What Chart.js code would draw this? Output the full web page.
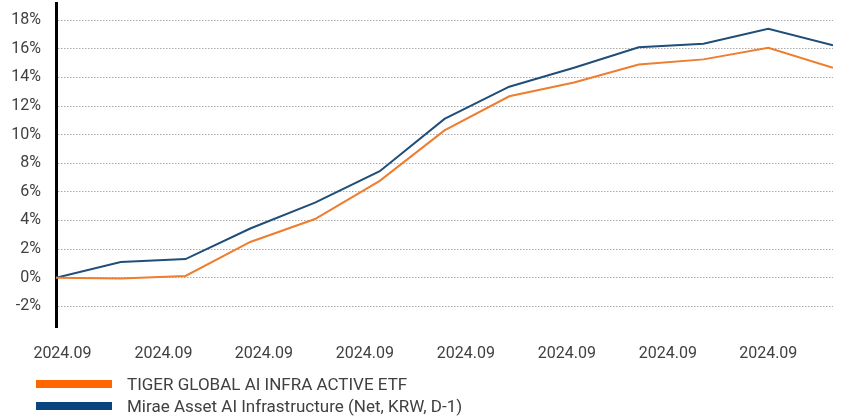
<!DOCTYPE html>
<html>
<head>
<meta charset="utf-8">
<script src="https://cdn.jsdelivr.net/npm/chart.js@4"></script>
<style>
  html, body { margin: 0; padding: 0; background: #fff; }
  #wrap { position: relative; width: 849px; height: 418px; }
  #box { position: absolute; left: 0; top: 0; width: 849px; height: 381px; }
  #legend { position: absolute; left: 36px; top: 373px; font-family: Roboto, "Liberation Sans", sans-serif; font-size: 17px; color: #404040; }
  .item { display: flex; align-items: center; height: 22px; }
  .sw { width: 76px; height: 8px; margin-right: 15px; }
</style>
</head>
<body>
<div id="wrap">
  <div id="box"><canvas id="c"></canvas></div>
  <div id="legend"></div>
</div>
<script>
// ---- data ----
const seriesNames = ["TIGER GLOBAL AI INFRA ACTIVE ETF", "Mirae Asset AI Infrastructure (Net, KRW, D-1)"];
const pointIndex = [0, 1, 2, 3, 4, 5, 6, 7, 8, 9, 10, 11, 12];
const tigerValues = [0, -0.05, 0.12, 2.5, 4.1, 6.77, 10.3, 12.68, 13.65, 14.9, 15.26, 16.07, 14.68];
const miraeValues = [0, 1.1, 1.3, 3.44, 5.25, 7.44, 11.1, 13.35, 14.68, 16.1, 16.35, 17.4, 16.24];
const xTickLabels = ["2024.09", "2024.09", "2024.09", "2024.09", "2024.09", "2024.09", "2024.09", "2024.09"];
const xTickValues = [0.1, 1.66, 3.21, 4.77, 6.33, 7.89, 9.45, 11.0];
const yTickValues = [-2, 0, 2, 4, 6, 8, 10, 12, 14, 16, 18];

const lineColors = ["#EE7D2E", "#1F4E79"];
const legendColors = ["#FF6600", "#0A4580"];

const toPts = vals => pointIndex.map((x, i) => ({ x: x, y: vals[i] }));

const chart = new Chart(document.getElementById('c'), {
  type: 'line',
  data: {
    datasets: [
      { label: seriesNames[0], data: toPts(tigerValues), borderColor: lineColors[0], borderWidth: 2, pointRadius: 0, tension: 0, fill: false },
      { label: seriesNames[1], data: toPts(miraeValues), borderColor: lineColors[1], borderWidth: 2, pointRadius: 0, tension: 0, fill: false }
    ]
  },
  options: {
    responsive: true,
    maintainAspectRatio: false,
    animation: false,
    layout: { padding: { top: 3, right: 16, bottom: 0, left: 0 } },
    plugins: { legend: { display: false }, tooltip: { enabled: false } },
    scales: {
      x: {
        type: 'linear',
        min: 0,
        max: 12,
        grid: { display: false, drawTicks: false },
        border: { display: false },
        afterBuildTicks: axis => { axis.ticks = xTickValues.map(v => ({ value: v })); },
        afterFit: axis => { axis.paddingLeft = 0; axis.paddingRight = 0; },
        ticks: {
          autoSkip: false,
          maxRotation: 0,
          padding: 17,
          color: '#404040',
          font: { family: 'Roboto', size: 16 },
          callback: (v, i) => xTickLabels[i]
        }
      },
      y: {
        min: -3.5,
        max: 19.2,
        afterBuildTicks: axis => { axis.ticks = yTickValues.map(v => ({ value: v })); },
        afterFit: axis => { axis.width = 56; axis.paddingTop = 0; axis.paddingBottom = 0; },
        grid: { color: '#aaaaaa', lineWidth: 1, drawTicks: false },
        border: { display: true, color: '#000', width: 3, dash: [1.5, 1.5] },
        ticks: {
          padding: 15,
          color: '#404040',
          font: { family: 'Roboto', size: 16 },
          callback: v => v + '%'
        }
      }
    }
  }
});

const lg = document.getElementById('legend');
seriesNames.forEach((n, i) => {
  const d = document.createElement('div');
  d.className = 'item';
  d.innerHTML = '<div class="sw" style="background:' + legendColors[i] + '"></div><span>' + n + '</span>';
  lg.appendChild(d);
});
</script>
</body>
</html>
